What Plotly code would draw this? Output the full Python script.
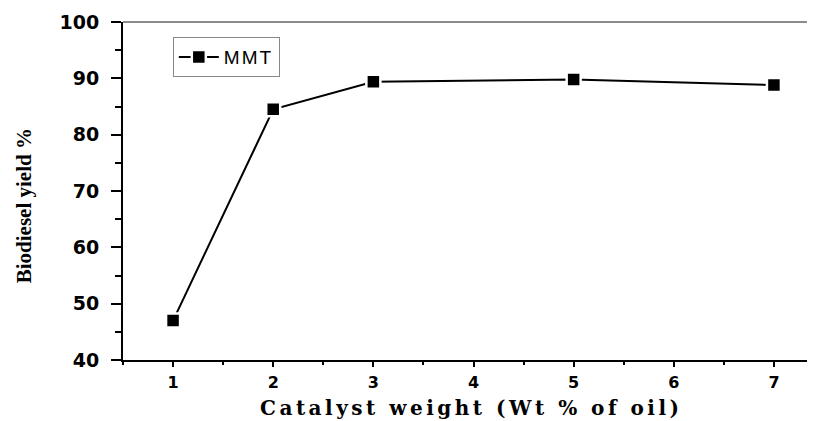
import plotly.graph_objects as go

catalyst_wt = [1, 2, 3, 5, 7]
yield_pct = [47.0, 84.5, 89.4, 89.8, 88.8]
series_name = "MMT"
x_ticks = [1, 2, 3, 4, 5, 6, 7]
y_ticks = [40, 50, 60, 70, 80, 90, 100]

fig = go.Figure()
fig.add_trace(go.Scatter(
    x=catalyst_wt, y=yield_pct,
    name='<span style="letter-spacing:2px">' + series_name + '</span>',
    mode="lines+markers",
    line=dict(color="black", width=2),
    marker=dict(symbol="square", size=14, color="black",
                line=dict(color="white", width=2.5)),
))

# page body has an 8px margin, so the figure is offset by (8, 8)
fig.update_layout(
    width=807, height=413,
    margin=dict(l=115, r=0, t=14, b=61),
    plot_bgcolor="white", paper_bgcolor="white",
    showlegend=True,
    legend=dict(x=0.072, y=0.955, xanchor="left", yanchor="top",
                bordercolor="#888888", borderwidth=1,
                bgcolor="white",
                font=dict(family="Liberation Sans", size=19, color="black"),
                itemwidth=40, tracegroupgap=0, indentation=0,
                entrywidth=110, entrywidthmode="pixels"),
    xaxis=dict(range=[0.5, 7.41], tickvals=x_ticks, ticktext=[str(v) for v in x_ticks],
               showgrid=False, zeroline=False, showline=True, linecolor="black", linewidth=2,
               ticks="outside", ticklen=5, tickwidth=2, tickcolor="black",
               minor=dict(ticks="outside", dtick=0.5, ticklen=3, tickwidth=2, tickcolor="black"),
               tickfont=dict(family="DejaVu Sans", size=16, color="black", weight="bold"),
               ticklabelstandoff=2),
    yaxis=dict(range=[40, 100], tickvals=y_ticks, ticktext=[str(v) for v in y_ticks],
               showgrid=False, zeroline=False, showline=True, linecolor="black", linewidth=2,
               ticks="outside", ticklen=10, tickwidth=2, tickcolor="black",
               minor=dict(ticks="outside", dtick=5, ticklen=6, tickwidth=2, tickcolor="black"),
               tickfont=dict(family="DejaVu Sans", size=19, color="black", weight="bold"),
               ticklabelstandoff=8),
)

fig.add_shape(type="line", xref="paper", yref="paper", x0=0, x1=1, y0=1, y1=1,
              line=dict(color="#666666", width=1.5))

fig.add_annotation(text="Biodiesel yield %", xref="paper", yref="paper",
                   x=-0.143, y=0.455, xanchor="center", yanchor="middle",
                   textangle=-90, showarrow=False,
                   font=dict(family="Liberation Serif", size=21, color="black", weight="bold"))
fig.add_annotation(text='<span style="letter-spacing:3.5px">Catalyst weight (Wt % of oil)</span>',
                   xref="paper", yref="paper", x=0.504, y=-0.143,
                   xanchor="center", yanchor="middle", showarrow=False,
                   font=dict(family="DejaVu Serif", size=20, color="black", weight="bold"))

fig.write_html("out.html")
